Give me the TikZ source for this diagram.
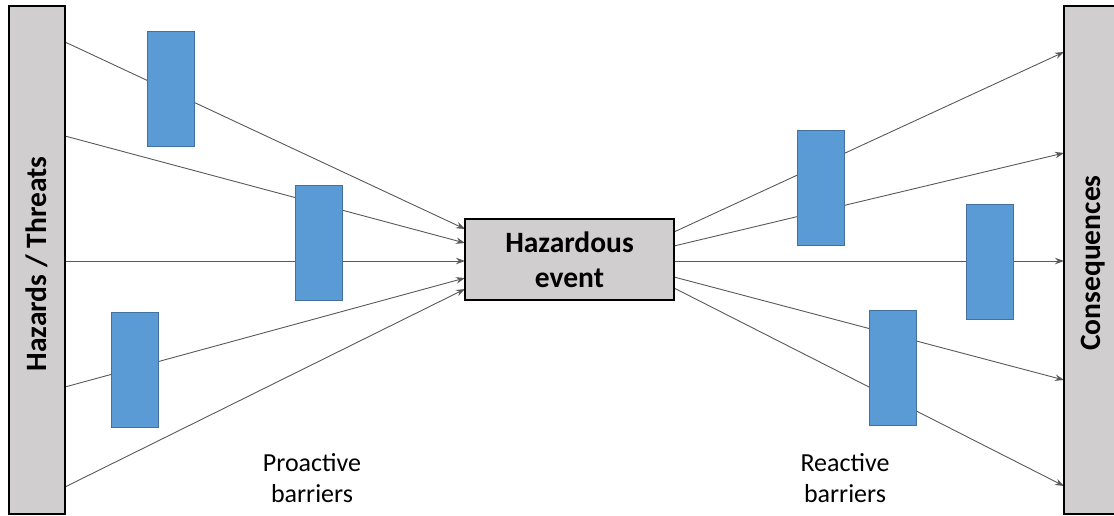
\documentclass[tikz,border=0pt]{standalone}
\usepackage{fontspec}
\setmainfont{Carlito}
\usetikzlibrary{arrows.meta}
\definecolor{barfill}{HTML}{D0CECE}
\definecolor{bluefill}{HTML}{5B9BD5}
\definecolor{blueedge}{HTML}{41719C}
\definecolor{linegray}{HTML}{595959}
\begin{document}
\begin{tikzpicture}[x=1pt,y=-1pt,
  bar/.style={draw=black,line width=1.5pt,fill=barfill,inner sep=0pt,outer sep=0pt},
  barrier/.style={draw=blueedge,line width=0.8pt,fill=bluefill,minimum width=47pt,minimum height=115pt,inner sep=0pt,outer sep=0pt},
  link/.style={draw=linegray,line width=0.9pt,-{Stealth[length=9pt,width=6.5pt]}},
  boldlabel/.style={font=\fontsize{29.5}{35}\selectfont\bfseries,align=center,inner sep=0pt},
  note/.style={font=\fontsize{26}{31}\selectfont,align=center,inner sep=0pt}]
\useasboundingbox (0,0) rectangle (1114,516);
\clip (0,0) rectangle (1114,516);
% connector end points
\coordinate (l1) at (65,42);  \coordinate (l2) at (65,136);
\coordinate (l3) at (65,261); \coordinate (l4) at (65,387);
\coordinate (l5) at (65,487);
\coordinate (ci1) at (465,229); \coordinate (ci2) at (465,243);
\coordinate (ci3) at (465,261); \coordinate (ci4) at (465,278);
\coordinate (ci5) at (465,289);
\coordinate (co1) at (674,232); \coordinate (co2) at (674,246);
\coordinate (co3) at (674,261); \coordinate (co4) at (674,277);
\coordinate (co5) at (674,288);
\coordinate (r1) at (1064,52);  \coordinate (r2) at (1064,153);
\coordinate (r3) at (1064,261); \coordinate (r4) at (1064,380);
\coordinate (r5) at (1064,486);
% connectors
\draw[link] (l1) -- (ci1);
\draw[link] (l2) -- (ci2);
\draw[link] (l3) -- (ci3);
\draw[link] (l4) -- (ci4);
\draw[link] (l5) -- (ci5);
\draw[link] (co1) -- (r1);
\draw[link] (co2) -- (r2);
\draw[link] (co3) -- (r3);
\draw[link] (co4) -- (r4);
\draw[link] (co5) -- (r5);
% bars and event
\node[bar,minimum width=56pt,minimum height=508pt] (haz) at (37,260) {};
\node[boldlabel,rotate=90] (hazt) at (37,264) {Hazards / Threats};
\node[bar,minimum width=58pt,minimum height=508pt] (cons) at (1093,260) {};
\node[boldlabel,rotate=90] (const) at (1093,263) {Consequences};
\node[bar,minimum width=209pt,minimum height=81pt,boldlabel] (event) at (569.5,259.5) {Hazardous\\event};
% barriers
\node[barrier] (b1) at (170.5,88.5) {};
\node[barrier] (b2) at (319,242.5) {};
\node[barrier] (b3) at (135,369.5) {};
\node[barrier] (b4) at (820.5,188) {};
\node[barrier] (b5) at (990,262) {};
\node[barrier] (b6) at (893,367.5) {};
% labels
\node[note] (pro) at (312,478) {Proactive\\barriers};
\node[note] (rea) at (845,478) {Reactive\\barriers};
\end{tikzpicture}
\end{document}
